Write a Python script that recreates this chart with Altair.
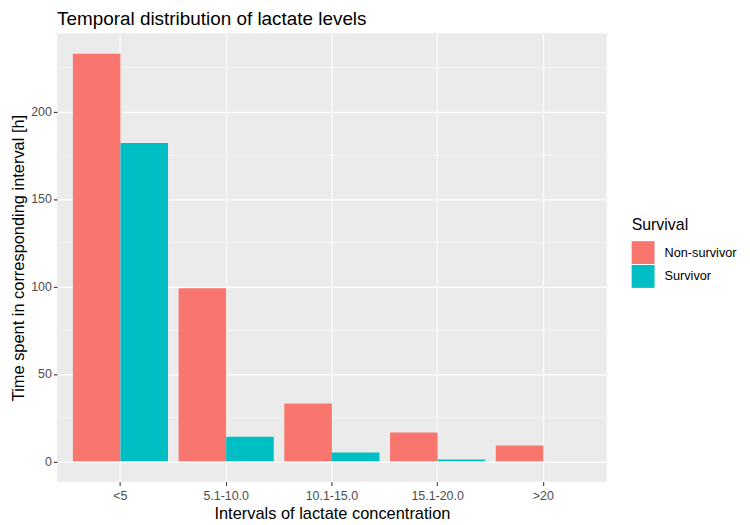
import altair as alt
import pandas as pd

categories = ["<5", "5.1-10.0", "10.1-15.0", "15.1-20.0", ">20"]
groups = ["Non-survivor", "Survivor"]
non_survivor = [233, 99, 33, 16.5, 9]
survivor = [182, 14, 5, 1, 0]
major_ticks = [0, 50, 100, 150, 200]
minor_ticks = [25, 75, 125, 175, 225]
colors = ["#F8766D", "#00BFC4"]

rows = []
for c, v in zip(categories, non_survivor):
    rows.append({"interval": c, "Survival": groups[0], "hours": v})
for c, v in zip(categories, survivor):
    rows.append({"interval": c, "Survival": groups[1], "hours": v})
df = pd.DataFrame(rows)
minor_df = pd.DataFrame({"hours": minor_ticks})

FONT = "Liberation Sans"
ydom = [-11.65, 244.65]
W, H = 553, 451

yscale = alt.Scale(domain=ydom, nice=False, zero=False)
yaxis = alt.Axis(
    title="Time spent in corresponding interval [h]",
    values=major_ticks,
    titleX=-34,
    titleY=H / 2,
    titleAngle=270,
    titleAlign="center",
    titleBaseline="alphabetic",
)

minor = alt.Chart(minor_df).mark_rule(color="white", strokeWidth=0.55).encode(
    y=alt.Y("hours:Q", scale=yscale, axis=yaxis)
)

bars = alt.Chart(df).mark_bar().encode(
    x=alt.X(
        "interval:N",
        sort=categories,
        scale=alt.Scale(paddingInner=0.1, paddingOuter=0.15),
        axis=alt.Axis(
            title="Intervals of lactate concentration",
            labelAngle=0,
            labelPadding=4,
            bandPosition=0.5,
            titleY=37,
            titleBaseline="alphabetic",
        ),
    ),
    xOffset=alt.XOffset("Survival:N", sort=groups),
    y=alt.Y("hours:Q", scale=yscale, axis=yaxis),
    y2=alt.datum(0),
    color=alt.Color(
        "Survival:N",
        sort=groups,
        scale=alt.Scale(domain=groups, range=colors),
        legend=alt.Legend(
            title="Survival",
            orient="none",
            legendX=578,
            legendY=185,
            symbolType="square",
            symbolSize=529,
            symbolStrokeWidth=0,
            symbolOpacity=1,
            rowPadding=1,
            labelOffset=10,
            titlePadding=8,
        ),
    ),
)

chart = (
    alt.layer(minor, bars)
    .properties(
        width=W,
        height=H,
        autosize=alt.AutoSizeParams(type="none"),
        padding={"left": 49.3, "top": 24, "right": 136, "bottom": 40},
        title=alt.Title(
            "Temporal distribution of lactate levels",
            anchor="start",
            frame="group",
            offset=4,
            fontSize=19,
            fontWeight="normal",
            font=FONT,
            color="black",
        ),
    )
    .configure_view(fill="#EBEBEB", stroke=None)
    .configure_axis(
        domain=False,
        grid=True,
        gridColor="white",
        gridWidth=1.1,
        tickColor="#333333",
        tickSize=3.7,
        tickWidth=1.1,
        labelColor="#4D4D4D",
        labelFont=FONT,
        labelFontSize=12.5,
        labelPadding=2,
        titleFont=FONT,
        titleFontSize=16.5,
        titleFontWeight="normal",
        titleColor="black",
    )
    .configure_legend(
        titleFont=FONT,
        titleFontSize=16,
        titleFontWeight="normal",
        titleColor="black",
        labelFont=FONT,
        labelFontSize=12.8,
        labelColor="black",
    )
)

chart.save("out.html", embed_options={"renderer": "svg", "actions": False})
